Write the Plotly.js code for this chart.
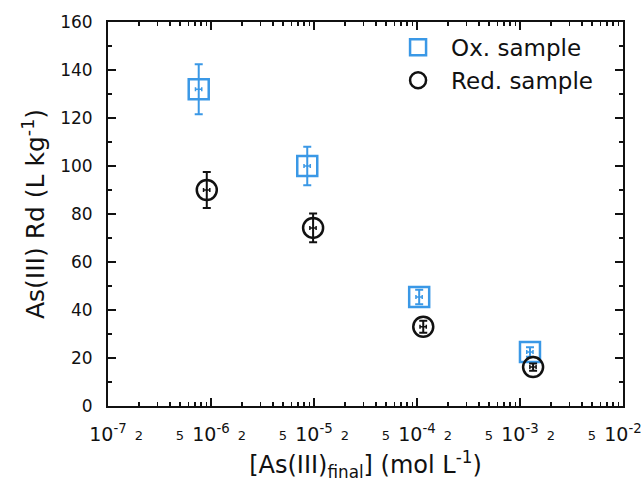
<!DOCTYPE html>
<html><head><meta charset="utf-8">
<script src="https://cdn.plot.ly/plotly-3.0.1.min.js"></script>
<style>body{margin:0;background:#fff}#c{width:641px;height:490px}</style>
</head><body><div id="c"></div>
<script>
const oxX = [7.6e-7, 8.6e-6, 1.05e-4, 1.25e-3];
const oxY = [132, 100, 45.4, 22.5];
const oxYErr = [10.4, 8, 3, 2];
const redX = [9.1e-7, 9.8e-6, 1.15e-4, 1.34e-3];
const redY = [90, 74.2, 33, 16.2];
const redYErr = [7.5, 6, 2.5, 1.5];
const decades = [1e-7, 1e-6, 1e-5, 1e-4, 1e-3, 1e-2];
const decadeLabels = ["10<sup>-7</sup>","10<sup>-6</sup>","10<sup>-5</sup>","10<sup>-4</sup>","10<sup>-3</sup>","10<sup>-2</sup>"];
const subVals = [2e-7,5e-7,2e-6,5e-6,2e-5,5e-5,2e-4,5e-4,2e-3,5e-3];
const subLabels = ["2","5","2","5","2","5","2","5","2","5"];
const minorMults = [2,3,4,5,6,7,8,9];
const yTicks = [0,20,40,60,80,100,120,140,160];
const yMinor = [10,30,50,70,90,110,130,150];
const minorVals = [];
decades.slice(0,5).forEach(d => minorMults.forEach(m => minorVals.push(d*m)));

const blue = '#3a98e6';
const ink = '#111';
const font = 'DejaVu Sans, sans-serif';
const data = [
  {x: oxX, y: oxY, type:'scatter', mode:'markers', name:'Ox. sample',
   marker:{symbol:'square-open', size:20, color:blue, line:{width:2.5, color:blue}},
   error_y:{type:'data', array:oxYErr, color:blue, thickness:2, width:4},
   error_x:{type:'percent', value:7, color:blue, thickness:1.5, width:2}},
  {x: redX, y: redY, type:'scatter', mode:'markers', name:'Red. sample',
   marker:{symbol:'circle-open', size:20, color:ink, line:{width:2.5, color:ink}},
   error_y:{type:'data', array:redYErr, color:ink, thickness:2, width:4},
   error_x:{type:'percent', value:7, color:ink, thickness:1.5, width:2}},
  {x:[1e-7], y:[-100], xaxis:'x2', type:'scatter', mode:'markers', showlegend:false, hoverinfo:'skip', marker:{opacity:0}}
];
const layout = {
  width:641, height:490,
  margin:{l:108, r:18, t:22, b:84},
  paper_bgcolor:'#fff', plot_bgcolor:'#fff',
  font:{family:font, color:ink},
  showlegend:true,
  legend:{x:0.538, y:0.99, xanchor:'left', yanchor:'top', bgcolor:'rgba(0,0,0,0)',
          font:{size:23, family:font, color:ink}, itemsizing:'trace', itemwidth:56, tracegroupgap:0},
  xaxis:{type:'log', range:[-7,-2], tickmode:'array', tickvals:decades, ticktext:decadeLabels,
         ticks:'inside', ticklen:8, tickwidth:1.5, tickcolor:ink, ticklabeloverflow:'allow',
         showline:true, linecolor:ink, linewidth:2, mirror:'ticks', showgrid:false, zeroline:false,
         tickfont:{size:19, family:font}, ticklabelstandoff:10,
         minor:{tickmode:'array', tickvals:minorVals, ticks:'inside', ticklen:4, tickwidth:1.2, tickcolor:ink, showgrid:false},
         title:{text:'[As(III)<sub>final</sub>] (mol L<sup>-1</sup>)', font:{size:24, family:font}, standoff:12}},
  xaxis2:{type:'log', range:[-7,-2], overlaying:'x', side:'bottom', anchor:'y', tickmode:'array',
          tickvals:subVals, ticktext:subLabels, ticks:'', showline:false, showgrid:false, zeroline:false,
          tickfont:{size:13, family:font}, ticklabelstandoff:20},
  yaxis:{range:[0,160], tickmode:'array', tickvals:yTicks,
         ticks:'inside', ticklen:8, tickwidth:1.5, tickcolor:ink,
         showline:true, linecolor:ink, linewidth:2, mirror:'ticks', showgrid:false, zeroline:false,
         tickfont:{size:17, family:font}, ticklabelstandoff:10,
         minor:{tickmode:'array', tickvals:yMinor, ticks:'inside', ticklen:4, tickwidth:1.2, tickcolor:ink, showgrid:false},
         title:{text:'As(III) Rd (L kg<sup>-1</sup>)', font:{size:25, family:font}, standoff:8}}
};
Plotly.newPlot('c', data, layout, {displayModeBar:false, staticPlot:true});
</script></body></html>
